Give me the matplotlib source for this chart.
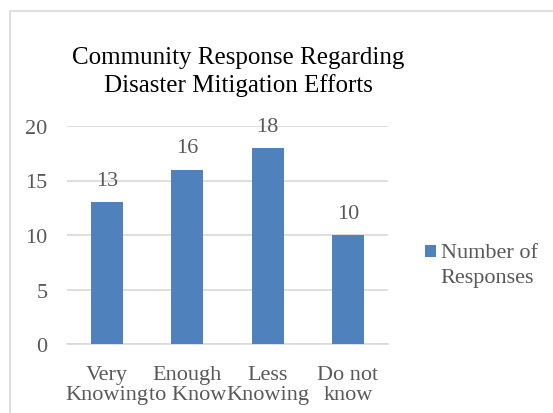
import matplotlib.pyplot as plt
from matplotlib.patches import Rectangle
from matplotlib.container import BarContainer
from matplotlib.legend_handler import HandlerPatch, update_from_first_child

categories = ["Very\nKnowing", "Enough\nto Know", "Less\nKnowing", "Do not\nknow"]
responses = [13, 16, 18, 10]
series_name = "Number of\nResponses"
yticks = [0, 5, 10, 15, 20]

plt.rcParams["font.family"] = ["Liberation Serif", "DejaVu Serif"]
TXT = "#595959"
BAR = "#4f81bd"
GRID = "#d9d9d9"
FS = 16

fig = plt.figure(figsize=(5.53, 4.14), dpi=100)
fig.patch.set_facecolor("white")
# chart frame (cut off on right/bottom like the screenshot)
fig.patches.append(Rectangle((10 / 553, -0.1), 1.2, 1 - 12 / 414 + 0.1,
                             transform=fig.transFigure, fill=False,
                             ec=GRID, lw=1.2))

ax = fig.add_axes([67 / 553, 1 - 345 / 414, 321 / 553, 218 / 414])
x = range(len(categories))
bars = ax.bar(x, responses, width=0.4, color=BAR, label=series_name, zorder=3)
for b, v in zip(bars, responses):
    ax.text(b.get_x() + b.get_width() / 2, v + 2.0, str(v), ha="center",
            va="center", fontsize=FS, color=TXT)

ax.set_xlim(-0.5, len(categories) - 0.5)
ax.set_ylim(0, 20)
ax.set_yticks(yticks)
ax.set_xticks(list(x))
ax.set_xticklabels(categories, fontsize=FS, color=TXT, linespacing=1.1)
ax.tick_params(axis="y", labelsize=FS, labelcolor=TXT, length=0, pad=14)
ax.tick_params(axis="x", length=0, pad=15)
ax.grid(axis="y", color=GRID, lw=1.2, zorder=0)
for s in ["top", "right", "left"]:
    ax.spines[s].set_visible(False)
ax.spines["bottom"].set_color(GRID)
ax.spines["bottom"].set_linewidth(1.2)

fig.text(238 / 553, 1 - 72 / 414,
         "Community Response Regarding\nDisaster Mitigation Efforts",
         ha="center", va="center", fontsize=18, color="black",
         linespacing=1.25)


# legend square sits on the first text line, like Excel
def top_square(legend, orig_handle, xdescent, ydescent, width, height, fontsize):
    return Rectangle((-xdescent, -ydescent + 9.5), width, height)


sq = HandlerPatch(patch_func=top_square, update_func=update_from_first_child)
leg = fig.legend(loc="center left", bbox_to_anchor=(425 / 553, 1 - 266 / 414),
                 frameon=False, fontsize=FS, labelcolor=TXT, handlelength=0.5,
                 handleheight=0.5, handletextpad=0.2, borderpad=0,
                 borderaxespad=0, handler_map={BarContainer: sq})
for t in leg.get_texts():
    t.set_linespacing(1.45)

fig.savefig("out.png", dpi=100)
